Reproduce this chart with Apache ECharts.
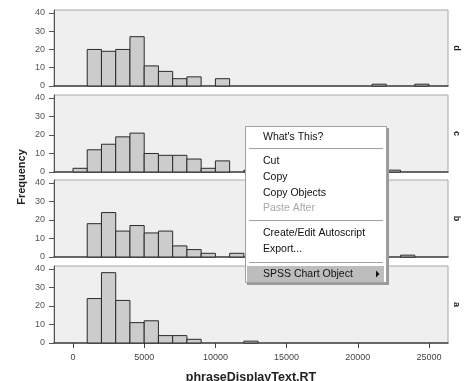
<!DOCTYPE html>
<html><head><meta charset="utf-8">
<script src="https://cdn.jsdelivr.net/npm/echarts@6/dist/echarts.min.js"></script>
<style>html,body{margin:0;padding:0;background:#fff}#c{width:468px;height:381px}</style>
</head><body><div id="c"></div>
<script>
// Histogram bins: width 1000, starting at binStarts[i]
const binWidth = 1000;
const binStarts = [0,1000,2000,3000,4000,5000,6000,7000,8000,9000,10000,11000,12000,13000,14000,15000,16000,17000,18000,19000,20000,21000,22000,23000,24000];
const panelLabels = ['d','c','b','a'];
const countsD = [0,20,19,20,27,11,8,4,5,0,4,0,0,0,0,0,0,0,0,0,0,1,0,0,1];
const countsC = [2,12,15,19,21,10,9,9,7,2,6,0,1,0,0,0,0,0,0,0,0,0,1,0,0];
const countsB = [0,18,24,14,17,13,14,6,4,2,0,2,0,0,0,0,0,0,0,0,0,0,0,1,0];
const countsA = [0,24,38,23,11,12,4,4,2,0,0,0,1,0,0,0,0,0,0,0,0,0,0,0,0];
const yTicks = [0,10,20,30,40];
const xTicks = [0,5000,10000,15000,20000,25000];
const xTitle = 'phraseDisplayText.RT';
const yTitle = 'Frequency';
const menuItems = ["What's This?","Cut","Copy","Copy Objects","Paste After","Create/Edit Autoscript","Export...","SPSS Chart Object"];

const panels = [countsD, countsC, countsB, countsA];
const tops = [10, 95, 180, 266];
const heights = [76, 77, 77, 77];
const font = 'Liberation Sans, Arial, sans-serif';

const grids = [], xAxes = [], yAxes = [], series = [];
panels.forEach((counts, i) => {
  const last = i === panels.length - 1;
  grids.push({left: 54, right: 20, top: tops[i], height: heights[i], show: true,
    backgroundColor: '#efefef', borderColor: '#a8a8a8', borderWidth: 1});
  xAxes.push({type: 'value', gridIndex: i, min: -1333, max: 26333,
    axisLine: {show: true, onZero: false, lineStyle: {color: '#444', width: 1.5}},
    axisTick: {show: last, length: 5, customValues: xTicks, lineStyle: {color: '#444'}},
    axisLabel: {show: last, customValues: xTicks, fontSize: 9, color: '#444', fontFamily: font, margin: 10,
      formatter: v => String(v)},
    splitLine: {show: false}});
  yAxes.push({type: 'value', gridIndex: i, min: 0, max: 41.6,
    axisLine: {show: true, onZero: false, lineStyle: {color: '#555', width: 1}},
    axisTick: {show: true, length: 5, customValues: yTicks, lineStyle: {color: '#555'}},
    axisLabel: {customValues: yTicks, fontSize: 9, color: '#555', fontFamily: font, margin: 9},
    splitLine: {show: false}});
  series.push({type: 'custom', xAxisIndex: i, yAxisIndex: i,
    data: binStarts.map((s, k) => [s, counts[k]]).filter(d => d[1] > 0),
    renderItem: function (params, api) {
      const s = api.value(0), c = api.value(1);
      const p0 = api.coord([s, 0]);
      const p1 = api.coord([s + binWidth, c]);
      return {type: 'rect', shape: {x: p0[0], y: p1[1], width: p1[0] - p0[0], height: p0[1] - p1[1]},
        style: {fill: '#cccccc', stroke: '#2a2a2a', lineWidth: 1}};
    }});
});

const graphic = [];
panelLabels.forEach((t, i) => {
  graphic.push({type: 'text', x: 456, y: tops[i] + heights[i] / 2, rotation: -Math.PI / 2,
    style: {text: t, font: 'bold 9px ' + font, fill: '#222', align: 'center', verticalAlign: 'middle'}});
});
graphic.push({type: 'text', x: 22, y: 177, rotation: Math.PI / 2,
  style: {text: yTitle, font: 'bold 11px ' + font, fill: '#222', align: 'center', verticalAlign: 'middle'}});
graphic.push({type: 'text', x: 251, y: 378,
  style: {text: xTitle, font: 'bold 12.5px ' + font, fill: '#222', align: 'center', verticalAlign: 'middle'}});

// context menu overlay
const mz = 100;
graphic.push({type: 'rect', z: mz, shape: {x: 247, y: 128, width: 142, height: 157}, style: {fill: '#9a9a9a'}});
graphic.push({type: 'rect', z: mz + 1, shape: {x: 245.5, y: 126.5, width: 141, height: 156}, style: {fill: '#ffffff', stroke: '#a0a0a0', lineWidth: 1}});
[148, 220, 262].forEach(y => {
  graphic.push({type: 'line', z: mz + 2, shape: {x1: 249, y1: y + 0.5, x2: 383, y2: y + 0.5}, style: {stroke: '#a0a0a0', lineWidth: 1}});
});
graphic.push({type: 'rect', z: mz + 2, shape: {x: 247, y: 266, width: 137, height: 16}, style: {fill: '#bdbdbd'}});
graphic.push({type: 'polygon', z: mz + 3, shape: {points: [[376, 270.5], [376, 277.5], [379.5, 274]]}, style: {fill: '#111'}});
const itemY = [137, 161, 177, 193, 208, 233, 249, 274];
menuItems.forEach((t, i) => {
  graphic.push({type: 'text', z: mz + 3, x: 263, y: itemY[i],
    style: {text: t, font: '10.5px ' + font, fill: t === 'Paste After' ? '#a8a8a8' : '#111', align: 'left', verticalAlign: 'middle'}});
});

const chart = echarts.init(document.getElementById('c'), null, {renderer: 'canvas'});
chart.setOption({animation: false, backgroundColor: '#ffffff', grid: grids, xAxis: xAxes, yAxis: yAxes, series: series, graphic: graphic});
</script></body></html>
